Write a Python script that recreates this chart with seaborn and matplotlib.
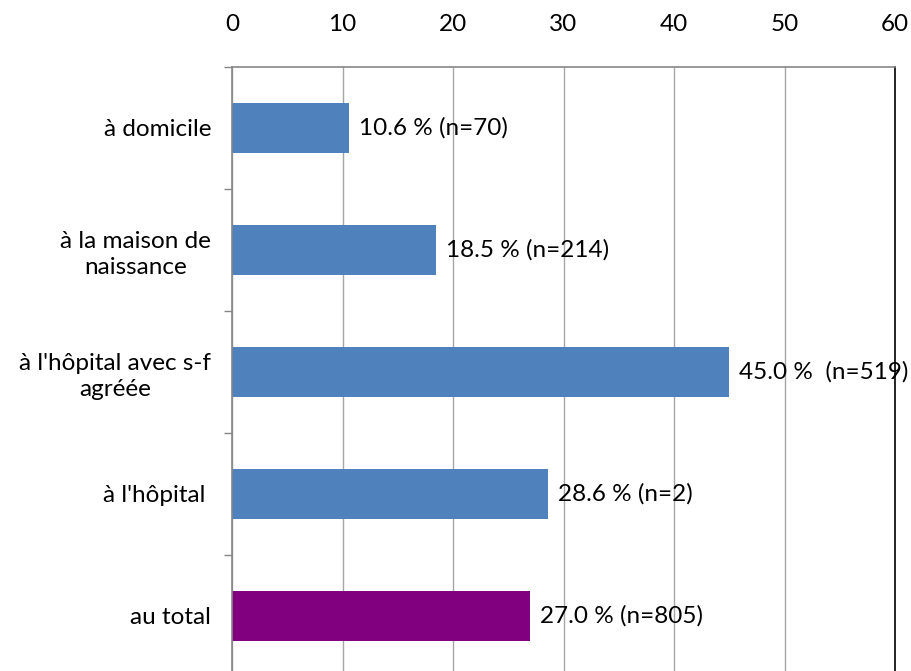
import matplotlib
matplotlib.use("Agg")
import matplotlib.pyplot as plt
import seaborn as sns
import pandas as pd
import numpy as np

categories = ["à domicile", "à la maison de\nnaissance", "à l'hôpital avec s-f\nagréée", "à l'hôpital ", "au total"]
values = [10.6, 18.5, 45.0, 28.6, 27.0]
value_labels = ["10.6 % (n=70)", "18.5 % (n=214)", "45.0 %  (n=519)", "28.6 % (n=2)", "27.0 % (n=805)"]
groups = ["site", "site", "site", "site", "total"]
palette = {"site": "#4F81BD", "total": "#800080"}
x_ticks = [0, 10, 20, 30, 40, 50, 60]

FS = 17.5

sns.set_theme(style="white")
plt.rcParams["font.family"] = ["Lato", "DejaVu Sans"]

df = pd.DataFrame({"cat": categories, "val": values, "grp": groups})

fig = plt.figure(figsize=(9.11, 6.71), dpi=100)
ax = fig.add_axes([232/911, 1 - 677/671, (895-232)/911, 610/671])

sns.barplot(data=df, y="cat", x="val", hue="grp", palette=palette, orient="h",
            width=0.41, dodge=False, legend=False, ax=ax, saturation=1, linewidth=0)

ax.set_xlim(0, 60)
ax.set_ylim(len(categories) - 0.5, -0.5)
ax.set_xlabel("")
ax.set_ylabel("")
ax.xaxis.tick_top()
ax.set_xticks(x_ticks)
ax.set_xticklabels([str(t) for t in x_ticks], fontsize=FS, color="black")
ax.tick_params(axis="x", length=0, pad=23)
ax.grid(axis="x", color="#A6A6A6", linewidth=1)
ax.set_axisbelow(True)

ax.set_yticks(range(len(categories)))
ax.set_yticklabels(categories, fontsize=FS, color="black", multialignment="center", linespacing=1.3)
ax.tick_params(axis="y", which="major", length=0, pad=15)
ax.set_yticks(np.arange(-0.5, len(categories), 1), minor=True)
ax.tick_params(axis="y", which="minor", length=6, width=1, color="#868686", left=True)

for s in ["left", "top"]:
    ax.spines[s].set_color("#868686")
    ax.spines[s].set_linewidth(1.2)
ax.spines["right"].set_color("black")
ax.spines["right"].set_linewidth(1.2)
ax.spines["bottom"].set_visible(False)

for i, (v, lab) in enumerate(zip(values, value_labels)):
    ax.annotate(lab, xy=(v, i), xytext=(7, 0), textcoords="offset points",
                va="center", ha="left", fontsize=FS, color="black")

fig.savefig("out.png", dpi=100)
